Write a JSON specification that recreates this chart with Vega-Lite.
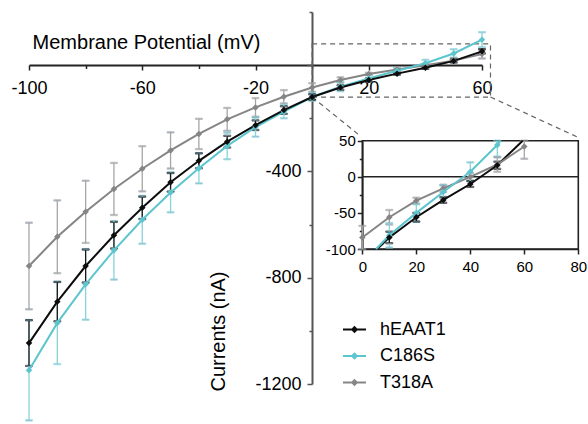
{
  "$schema": "https://vega.github.io/schema/vega-lite/v6.json",
  "width": 453,
  "height": 372,
  "autosize": {"type": "none"},
  "padding": {"left": 29, "top": 12, "right": 106, "bottom": 40},
  "config": {
    "view": {"stroke": null},
    "font": "Liberation Sans",
    "axis": {"grid": false, "labelColor": "#000", "titleColor": "#000", "titleFontWeight": "normal", "labelFlush": false}
  },
  "datasets": {
    "iv": [
      {"V": -100, "series": "T318A", "I": -756, "sd": 163},
      {"V": -90, "series": "T318A", "I": -646, "sd": 137},
      {"V": -80, "series": "T318A", "I": -552, "sd": 117},
      {"V": -70, "series": "T318A", "I": -466, "sd": 98},
      {"V": -60, "series": "T318A", "I": -390, "sd": 85},
      {"V": -50, "series": "T318A", "I": -321, "sd": 68},
      {"V": -40, "series": "T318A", "I": -259, "sd": 57},
      {"V": -30, "series": "T318A", "I": -204, "sd": 43},
      {"V": -20, "series": "T318A", "I": -159, "sd": 35},
      {"V": -10, "series": "T318A", "I": -119, "sd": 25},
      {"V": 0, "series": "T318A", "I": -84, "sd": 16},
      {"V": 10, "series": "T318A", "I": -56, "sd": 10},
      {"V": 20, "series": "T318A", "I": -33, "sd": 4},
      {"V": 30, "series": "T318A", "I": -16, "sd": 5},
      {"V": 40, "series": "T318A", "I": 0, "sd": 5},
      {"V": 50, "series": "T318A", "I": 17, "sd": 10},
      {"V": 60, "series": "T318A", "I": 42, "sd": 17},
      {"V": -100, "series": "C186S", "I": -1148, "sd": 189},
      {"V": -90, "series": "C186S", "I": -970, "sd": 155},
      {"V": -80, "series": "C186S", "I": -825, "sd": 133},
      {"V": -70, "series": "C186S", "I": -697, "sd": 110},
      {"V": -60, "series": "C186S", "I": -582, "sd": 90},
      {"V": -50, "series": "C186S", "I": -479, "sd": 75},
      {"V": -40, "series": "C186S", "I": -388, "sd": 57},
      {"V": -30, "series": "C186S", "I": -304, "sd": 50},
      {"V": -20, "series": "C186S", "I": -233, "sd": 36},
      {"V": -10, "series": "C186S", "I": -175, "sd": 25},
      {"V": 0, "series": "C186S", "I": -120, "sd": 14},
      {"V": 10, "series": "C186S", "I": -81, "sd": 17},
      {"V": 20, "series": "C186S", "I": -50, "sd": 12},
      {"V": 30, "series": "C186S", "I": -21, "sd": 9},
      {"V": 40, "series": "C186S", "I": 7, "sd": 13},
      {"V": 50, "series": "C186S", "I": 44, "sd": 16},
      {"V": 60, "series": "C186S", "I": 96, "sd": 28},
      {"V": -100, "series": "hEAAT1", "I": -1046, "sd": 86},
      {"V": -90, "series": "hEAAT1", "I": -890, "sd": 74},
      {"V": -80, "series": "hEAAT1", "I": -756, "sd": 62},
      {"V": -70, "series": "hEAAT1", "I": -640, "sd": 50},
      {"V": -60, "series": "hEAAT1", "I": -537, "sd": 42},
      {"V": -50, "series": "hEAAT1", "I": -441, "sd": 35},
      {"V": -40, "series": "hEAAT1", "I": -360, "sd": 28},
      {"V": -30, "series": "hEAAT1", "I": -288, "sd": 22},
      {"V": -20, "series": "hEAAT1", "I": -226, "sd": 18},
      {"V": -10, "series": "hEAAT1", "I": -169, "sd": 14},
      {"V": 0, "series": "hEAAT1", "I": -120, "sd": 10},
      {"V": 10, "series": "hEAAT1", "I": -84, "sd": 8},
      {"V": 20, "series": "hEAAT1", "I": -56, "sd": 6},
      {"V": 30, "series": "hEAAT1", "I": -32, "sd": 4},
      {"V": 40, "series": "hEAAT1", "I": -10, "sd": 4},
      {"V": 50, "series": "hEAAT1", "I": 16, "sd": 5},
      {"V": 60, "series": "hEAAT1", "I": 52, "sd": 8}
    ],
    "zoomBox": [{"x1": 0, "x2": 63, "y1": -120, "y2": 80}],
    "connectors": [
      {"x1": 0, "y1": -120, "x2": 17.3, "y2": -269},
      {"x1": 63, "y1": -120, "x2": 94, "y2": -272}
    ],
    "insetEdges": [
      {"series": "hEAAT1", "V1": 5.5, "I1": -100, "V2": 10, "I2": -84},
      {"series": "hEAAT1", "V1": 50, "I1": 16, "V2": 59.4, "I2": 50},
      {"series": "C186S", "V1": 5.1, "I1": -100, "V2": 10, "I2": -81},
      {"series": "C186S", "V1": 50, "I1": 44, "V2": 51.2, "I2": 50}
    ],
    "insetBox": [{"x1": 0, "x2": 80, "y1": -100, "y2": 50}],
    "insetZero": [{"x1": 0, "x2": 80, "y": 0}]
  },
  "layer": [
    {
      "data": {"name": "zoomBox"},
      "mark": {"type": "rect", "fillOpacity": 0, "stroke": "#666", "strokeWidth": 1.2, "strokeDash": [5, 4]},
      "encoding": {
        "x": {"field": "x1", "type": "quantitative", "scale": {"domain": [-100, 60], "nice": false, "zero": false}, "axis": null},
        "x2": {"field": "x2"},
        "y": {"field": "y1", "type": "quantitative", "scale": {"domain": [-1200, 200], "nice": false, "zero": false}, "axis": null},
        "y2": {"field": "y2"}
      }
    },
    {
      "data": {"name": "connectors"},
      "mark": {"type": "rule", "stroke": "#666", "strokeWidth": 1.2, "strokeDash": [5, 4]},
      "encoding": {
        "x": {"field": "x1", "type": "quantitative", "scale": {"domain": [-100, 60], "nice": false, "zero": false}, "axis": null},
        "x2": {"field": "x2"},
        "y": {"field": "y1", "type": "quantitative", "scale": {"domain": [-1200, 200], "nice": false, "zero": false}, "axis": null},
        "y2": {"field": "y2"}
      }
    },
    {
      "data": {"name": "iv"},
      "mark": {"type": "errorbar", "ticks": {"size": 7}, "thickness": 1.3},
      "encoding": {
        "x": {"field": "V", "type": "quantitative", "scale": {"domain": [-100, 60], "nice": false, "zero": false}, "axis": null},
        "y": {"field": "I", "type": "quantitative", "scale": {"domain": [-1200, 200], "nice": false, "zero": false}, "axis": null},
        "yError": {"field": "sd"},
        "stroke": {"field": "series", "type": "nominal", "scale": {"range": ["#86d3d9", "#a6a6a6", "#1a1a1a"]}, "legend": null}
      }
    },
    {
      "data": {"name": "iv"},
      "mark": {"type": "line", "strokeWidth": 2},
      "encoding": {
        "x": {
          "field": "V", "type": "quantitative",
          "scale": {"domain": [-100, 60], "nice": false, "zero": false},
          "axis": {
            "orient": "bottom", "offset": -319,
            "values": [-100, -80, -60, -40, -20, 0, 20, 40, 60],
            "labelExpr": "(datum.value + 100) % 40 == 0 ? '' + datum.value : ''",
            "labelFontSize": 18, "labelPadding": 9,
            "domainColor": "#222", "domainWidth": 2,
            "tickColor": "#222", "tickWidth": 1.5,
            "tickSize": {"condition": {"test": "(datum.value + 100) % 40 == 0", "value": 5}, "value": 3.5},
            "title": "Membrane Potential (mV)", "titleFontSize": 20,
            "titleX": 117, "titleY": -17, "titleBaseline": "alphabetic", "titleAlign": "center"
          }
        },
        "y": {
          "field": "I", "type": "quantitative",
          "scale": {"domain": [-1200, 200], "nice": false, "zero": false},
          "axis": {
            "orient": "left", "offset": -283,
            "values": [-1200, -1000, -800, -600, -400, -200, 0, 200],
            "labelExpr": "datum.value < 0 && datum.value % 400 == 0 ? '' + datum.value : ''",
            "labelFontSize": 18, "labelPadding": 6,
            "domainColor": "#555", "domainWidth": 2,
            "tickColor": "#555", "tickWidth": 1.5,
            "tickSize": {"condition": {"test": "datum.value % 400 == 0", "value": 5}, "value": 3},
            "title": "Currents (nA)", "titleFontSize": 20,
            "titleX": -88, "titleY": 319, "titleBaseline": "alphabetic", "titleAlign": "center", "titleAngle": -90
          }
        },
        "color": {
          "field": "series", "type": "nominal",
          "scale": {"domain": ["hEAAT1", "C186S", "T318A"], "range": ["#0d0d0d", "#5cc5ce", "#858585"]},
          "legend": {
            "orient": "none", "legendX": 313, "legendY": 305, "title": null,
            "labelFontSize": 18, "labelColor": "#000",
            "symbolType": "M-1,0L1,0M0,-0.2L0.2,0L0,0.2L-0.2,0Z",
            "symbolSize": 529, "symbolStrokeWidth": 2,
            "rowPadding": 4.5, "labelOffset": 13,
            "encode": {"symbols": {"update": {"fill": {"scale": "color", "field": "value"}, "stroke": {"scale": "color", "field": "value"}, "opacity": {"value": 1}}}}
          }
        }
      }
    },
    {
      "data": {"name": "iv"},
      "mark": {"type": "point", "shape": "diamond", "filled": true, "size": 42, "opacity": 1},
      "encoding": {
        "x": {"field": "V", "type": "quantitative", "scale": {"domain": [-100, 60], "nice": false, "zero": false}, "axis": null},
        "y": {"field": "I", "type": "quantitative", "scale": {"domain": [-1200, 200], "nice": false, "zero": false}, "axis": null},
        "color": {"field": "series", "type": "nominal"}
      }
    },
    {
      "data": {"name": "insetBox"},
      "mark": {"type": "rect", "fillOpacity": 0, "stroke": "#222", "strokeWidth": 1.6},
      "encoding": {
        "x": {"field": "x1", "type": "quantitative", "scale": {"domain": [0, 80], "range": [333.3, 549.3], "nice": false, "zero": false}, "axis": null},
        "x2": {"field": "x2"},
        "y": {"field": "y1", "type": "quantitative", "scale": {"domain": [-100, 50], "range": [237, 128.7], "nice": false, "zero": false}, "axis": null},
        "y2": {"field": "y2"}
      }
    },
    {
      "data": {"name": "insetZero"},
      "mark": {"type": "rule", "stroke": "#222", "strokeWidth": 1.5},
      "encoding": {
        "x": {"field": "x1", "type": "quantitative", "scale": {"domain": [0, 80], "range": [333.3, 549.3], "nice": false, "zero": false}, "axis": null},
        "x2": {"field": "x2"},
        "y": {"field": "y", "type": "quantitative", "scale": {"domain": [-100, 50], "range": [237, 128.7], "nice": false, "zero": false}, "axis": null}
      }
    },
    {
      "data": {"name": "iv"},
      "transform": [{"filter": "datum.V >= 0 && datum.I >= -100 && datum.I <= 50"}],
      "mark": {"type": "errorbar", "ticks": {"size": 7}, "thickness": 1.3},
      "encoding": {
        "x": {"field": "V", "type": "quantitative", "scale": {"domain": [0, 80], "range": [333.3, 549.3], "nice": false, "zero": false}, "axis": null},
        "y": {"field": "I", "type": "quantitative", "scale": {"domain": [-100, 50], "range": [237, 128.7], "nice": false, "zero": false, "clamp": true}, "axis": null},
        "yError": {"field": "sd"},
        "stroke": {"field": "series", "type": "nominal", "legend": null}
      }
    },
    {
      "data": {"name": "insetEdges"},
      "mark": {"type": "rule", "strokeWidth": 2},
      "encoding": {
        "x": {"field": "V1", "type": "quantitative", "scale": {"domain": [0, 80], "range": [333.3, 549.3], "nice": false, "zero": false}, "axis": null},
        "x2": {"field": "V2"},
        "y": {"field": "I1", "type": "quantitative", "scale": {"domain": [-100, 50], "range": [237, 128.7], "nice": false, "zero": false}, "axis": null},
        "y2": {"field": "I2"},
        "color": {"field": "series", "type": "nominal"}
      }
    },
    {
      "data": {"name": "iv"},
      "transform": [{"filter": "datum.V >= 0 && datum.I >= -100 && datum.I <= 50"}],
      "mark": {"type": "line", "strokeWidth": 2},
      "encoding": {
        "x": {
          "field": "V", "type": "quantitative",
          "scale": {"domain": [0, 80], "range": [333.3, 549.3], "nice": false, "zero": false},
          "axis": {
            "orient": "bottom", "offset": -135,
            "values": [0, 20, 40, 60, 80],
            "labelFontSize": 15, "labelPadding": 5,
            "domainColor": "#222", "domainWidth": 1.6,
            "tickColor": "#222", "tickWidth": 1.5, "tickSize": 5,
            "title": null
          }
        },
        "y": {
          "field": "I", "type": "quantitative",
          "scale": {"domain": [-100, 50], "range": [237, 128.7], "nice": false, "zero": false},
          "axis": {
            "orient": "left", "offset": -333.3,
            "values": [-100, -75, -50, -25, 0, 25, 50],
            "labelExpr": "datum.value % 50 == 0 ? '' + datum.value : ''",
            "labelFontSize": 15, "labelPadding": 2,
            "domainColor": "#222", "domainWidth": 1.6,
            "tickColor": "#222", "tickWidth": 1.5,
            "tickSize": {"condition": {"test": "datum.value % 50 == 0", "value": 5}, "value": 3},
            "title": null
          }
        },
        "color": {"field": "series", "type": "nominal"}
      }
    },
    {
      "data": {"name": "iv"},
      "transform": [{"filter": "datum.V >= 0 && datum.I >= -100 && datum.I <= 50"}],
      "mark": {"type": "point", "shape": "diamond", "filled": true, "size": 42, "opacity": 1},
      "encoding": {
        "x": {"field": "V", "type": "quantitative", "scale": {"domain": [0, 80], "range": [333.3, 549.3], "nice": false, "zero": false}, "axis": null},
        "y": {"field": "I", "type": "quantitative", "scale": {"domain": [-100, 50], "range": [237, 128.7], "nice": false, "zero": false}, "axis": null},
        "color": {"field": "series", "type": "nominal"}
      }
    }
  ],
  "resolve": {"scale": {"x": "independent", "y": "independent"}, "axis": {"x": "independent", "y": "independent"}}
}
